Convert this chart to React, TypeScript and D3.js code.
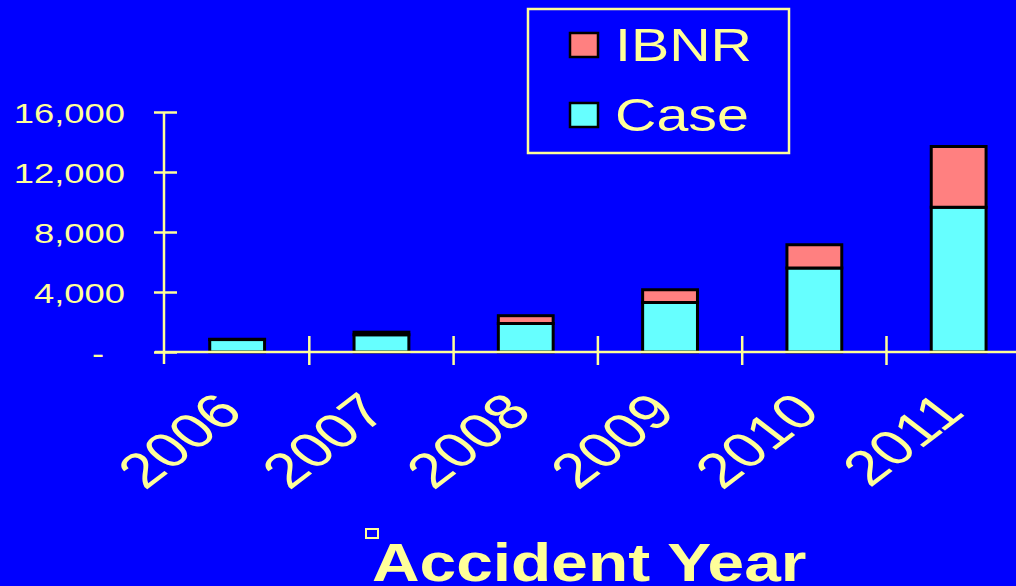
import { useEffect, useRef } from "react";
import * as d3 from "d3";

const years = ["2006", "2007", "2008", "2009", "2010", "2011"];
const caseValues = [830, 1150, 1900, 3300, 5600, 9650];
const ibnrValues = [20, 170, 520, 850, 1550, 4050];
const yTicks = [0, 4000, 8000, 12000, 16000];
const seriesNames = ["Case", "IBNR"];

const BLUE = "#0000ff";
const YELLOW = "#ffff99";
const CYAN = "#66ffff";
const PINK = "#ff8080";
const FONT = "'Liberation Sans', Arial, sans-serif";

export default function App() {
  const ref = useRef<SVGSVGElement>(null);

  useEffect(() => {
    document.body.style.margin = "0";
    const svg = d3.select(ref.current);
    svg.selectAll("*").remove();

    const width = 1016;
    const height = 586;

    svg.append("rect").attr("width", width).attr("height", height).attr("fill", BLUE);

    // scales
    const x = d3.scaleBand().domain(years).range([165, 165 + 6 * 144.3]).paddingInner(0.62).paddingOuter(0.31);
    const y = d3.scaleLinear().domain([0, 16000]).range([352, 112]);

    const table = years.map((yr, i) => ({ year: yr, Case: caseValues[i], IBNR: ibnrValues[i] }));
    const stacked = d3.stack<any>().keys(seriesNames)(table);
    const colors: Record<string, string> = { Case: CYAN, IBNR: PINK };

    // bars
    svg.selectAll(".layer")
      .data(stacked)
      .enter()
      .append("g")
      .attr("fill", (d) => colors[d.key])
      .selectAll("rect")
      .data((d) => d)
      .enter()
      .append("rect")
      .attr("x", (d: any) => x(d.data.year)!)
      .attr("y", (d) => y(d[1]))
      .attr("width", x.bandwidth())
      .attr("height", (d) => y(d[0]) - y(d[1]))
      .attr("stroke", "#000")
      .attr("stroke-width", 3);

    // x axis
    const y0 = y(0);
    svg.append("line")
      .attr("x1", 155).attr("x2", width)
      .attr("y1", y0).attr("y2", y0)
      .attr("stroke", YELLOW).attr("stroke-width", 2.5);

    const gap = (x.step() - x.bandwidth()) / 2;
    svg.selectAll(".xtick")
      .data(years.slice(1))
      .enter()
      .append("line")
      .attr("x1", (d) => x(d)! - gap)
      .attr("x2", (d) => x(d)! - gap)
      .attr("y1", y0 - 16)
      .attr("y2", y0 + 13)
      .attr("stroke", YELLOW)
      .attr("stroke-width", 2.5);

    svg.selectAll(".xlabel")
      .data(years)
      .enter()
      .append("text")
      .attr("transform", (d) => `translate(${x(d)! + x.bandwidth() / 2 + 8},414) scale(1.3,1) rotate(-45)`)
      .attr("text-anchor", "end")
      .attr("font-family", FONT)
      .attr("font-size", 49)
      .attr("fill", YELLOW)
      .text((d) => d);

    // y axis
    const yAxis = d3.axisLeft(y)
      .tickValues(yTicks)
      .tickSizeOuter(0)
      .tickFormat((d) => (+d === 0 ? "-" : d3.format(",")(+d)));

    const gy = svg.append("g").attr("transform", "translate(164,0)").call(yAxis);
    gy.select(".domain").remove();
    gy.selectAll(".tick line")
      .attr("x1", -10).attr("x2", 13)
      .attr("stroke", YELLOW).attr("stroke-width", 2.5);
    gy.selectAll(".tick text")
      .attr("fill", YELLOW)
      .attr("font-family", FONT)
      .attr("font-size", 28)
      .attr("dy", "0.36em")
      .attr("transform", "scale(1.3,1)")
      .attr("x", (d: any) => (d === 0 ? -46 : -30));
    gy.append("line")
      .attr("x1", 0).attr("x2", 0)
      .attr("y1", y(16000)).attr("y2", y0 + 12)
      .attr("stroke", YELLOW).attr("stroke-width", 2.5);

    // legend
    const legend = svg.append("g");
    legend.append("rect")
      .attr("x", 528).attr("y", 9)
      .attr("width", 261).attr("height", 144)
      .attr("fill", BLUE)
      .attr("stroke", YELLOW).attr("stroke-width", 2.5);

    const legendItems = ["IBNR", "Case"];
    const items = legend.selectAll(".item")
      .data(legendItems)
      .enter()
      .append("g")
      .attr("transform", (_d, i) => `translate(0,${i * 70})`);
    items.append("rect")
      .attr("x", 570).attr("y", 33)
      .attr("width", 28).attr("height", 24)
      .attr("fill", (d) => colors[d])
      .attr("stroke", "#000").attr("stroke-width", 2.5);
    items.append("text")
      .attr("transform", "translate(615,61) scale(1.22,1)")
      .attr("font-family", FONT)
      .attr("font-size", 47)
      .attr("fill", YELLOW)
      .text((d) => d);

    // axis title
    svg.append("rect")
      .attr("x", 366).attr("y", 529)
      .attr("width", 12).attr("height", 9)
      .attr("fill", "none")
      .attr("stroke", YELLOW).attr("stroke-width", 2);
    svg.append("text")
      .attr("transform", "translate(372,581) scale(1.22,1)")
      .attr("font-family", FONT)
      .attr("font-size", 54)
      .attr("font-weight", "bold")
      .attr("fill", YELLOW)
      .text("Accident Year");
  }, []);

  return <svg ref={ref} width={1016} height={586} style={{ display: "block" }} />;
}
